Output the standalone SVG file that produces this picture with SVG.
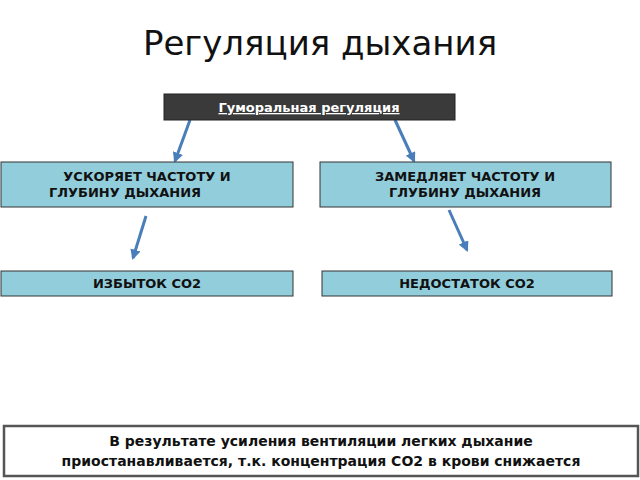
<svg xmlns="http://www.w3.org/2000/svg" width="640" height="480" viewBox="0 0 640 480">
<defs>
<style>
.box{fill:#92cddc;stroke:#333;stroke-width:1}
.t{font-family:"DejaVu Sans",sans-serif;font-weight:bold;font-size:13px;fill:#111;text-anchor:middle}
.c{stroke:#4a7ebb;stroke-width:3;fill:none;marker-end:url(#a)}
</style>
<marker id="a" viewBox="0 0 10 10" refX="8" refY="5" markerWidth="3.5" markerHeight="3.5" orient="auto"><path d="M0,0L10,5L0,10z" fill="#4a7ebb"/></marker>
</defs>
<rect width="640" height="480" fill="#fff"/>
<text x="320" y="55" font-family="DejaVu Sans,sans-serif" font-size="34" text-anchor="middle" fill="#111">Регуляция дыхания</text>
<g id="conn">
<line class="c" x1="190" y1="120" x2="175" y2="161"/>
<line class="c" x1="395" y1="120" x2="414" y2="161"/>
<line class="c" x1="146" y1="216" x2="133" y2="258"/>
<line class="c" x1="449" y1="210" x2="467" y2="250"/>
</g>
<g id="top"><rect x="164" y="94" width="291" height="26" fill="#3a3a3a" stroke="#222"/><text class="t" x="309" y="112" fill="#fff" style="fill:#fff" text-decoration="underline">Гуморальная регуляция</text></g>
<g id="n1"><rect class="box" x="1" y="162" width="292" height="45"/><text class="t" x="147" y="181">УСКОРЯЕТ ЧАСТОТУ И</text><text class="t" x="125" y="197">ГЛУБИНУ ДЫХАНИЯ</text></g>
<g id="n2"><rect class="box" x="320" y="162" width="291" height="45"/><text class="t" x="465" y="181">ЗАМЕДЛЯЕТ ЧАСТОТУ И</text><text class="t" x="465" y="197">ГЛУБИНУ ДЫХАНИЯ</text></g>
<g id="n3"><rect class="box" x="1" y="271" width="292" height="25"/><text class="t" x="147" y="288">ИЗБЫТОК CO2</text></g>
<g id="n4"><rect class="box" x="322" y="271" width="290" height="25"/><text class="t" x="467" y="288">НЕДОСТАТОК CO2</text></g>
<g id="n5"><rect x="4" y="426" width="634" height="50" fill="#fff" stroke="#555" stroke-width="2.5"/><text class="t" x="321" y="446" style="font-size:14px">В результате усиления вентиляции легких дыхание</text><text class="t" x="321" y="466" style="font-size:14px">приостанавливается, т.к. концентрация CO2 в крови снижается</text></g>
</svg>
